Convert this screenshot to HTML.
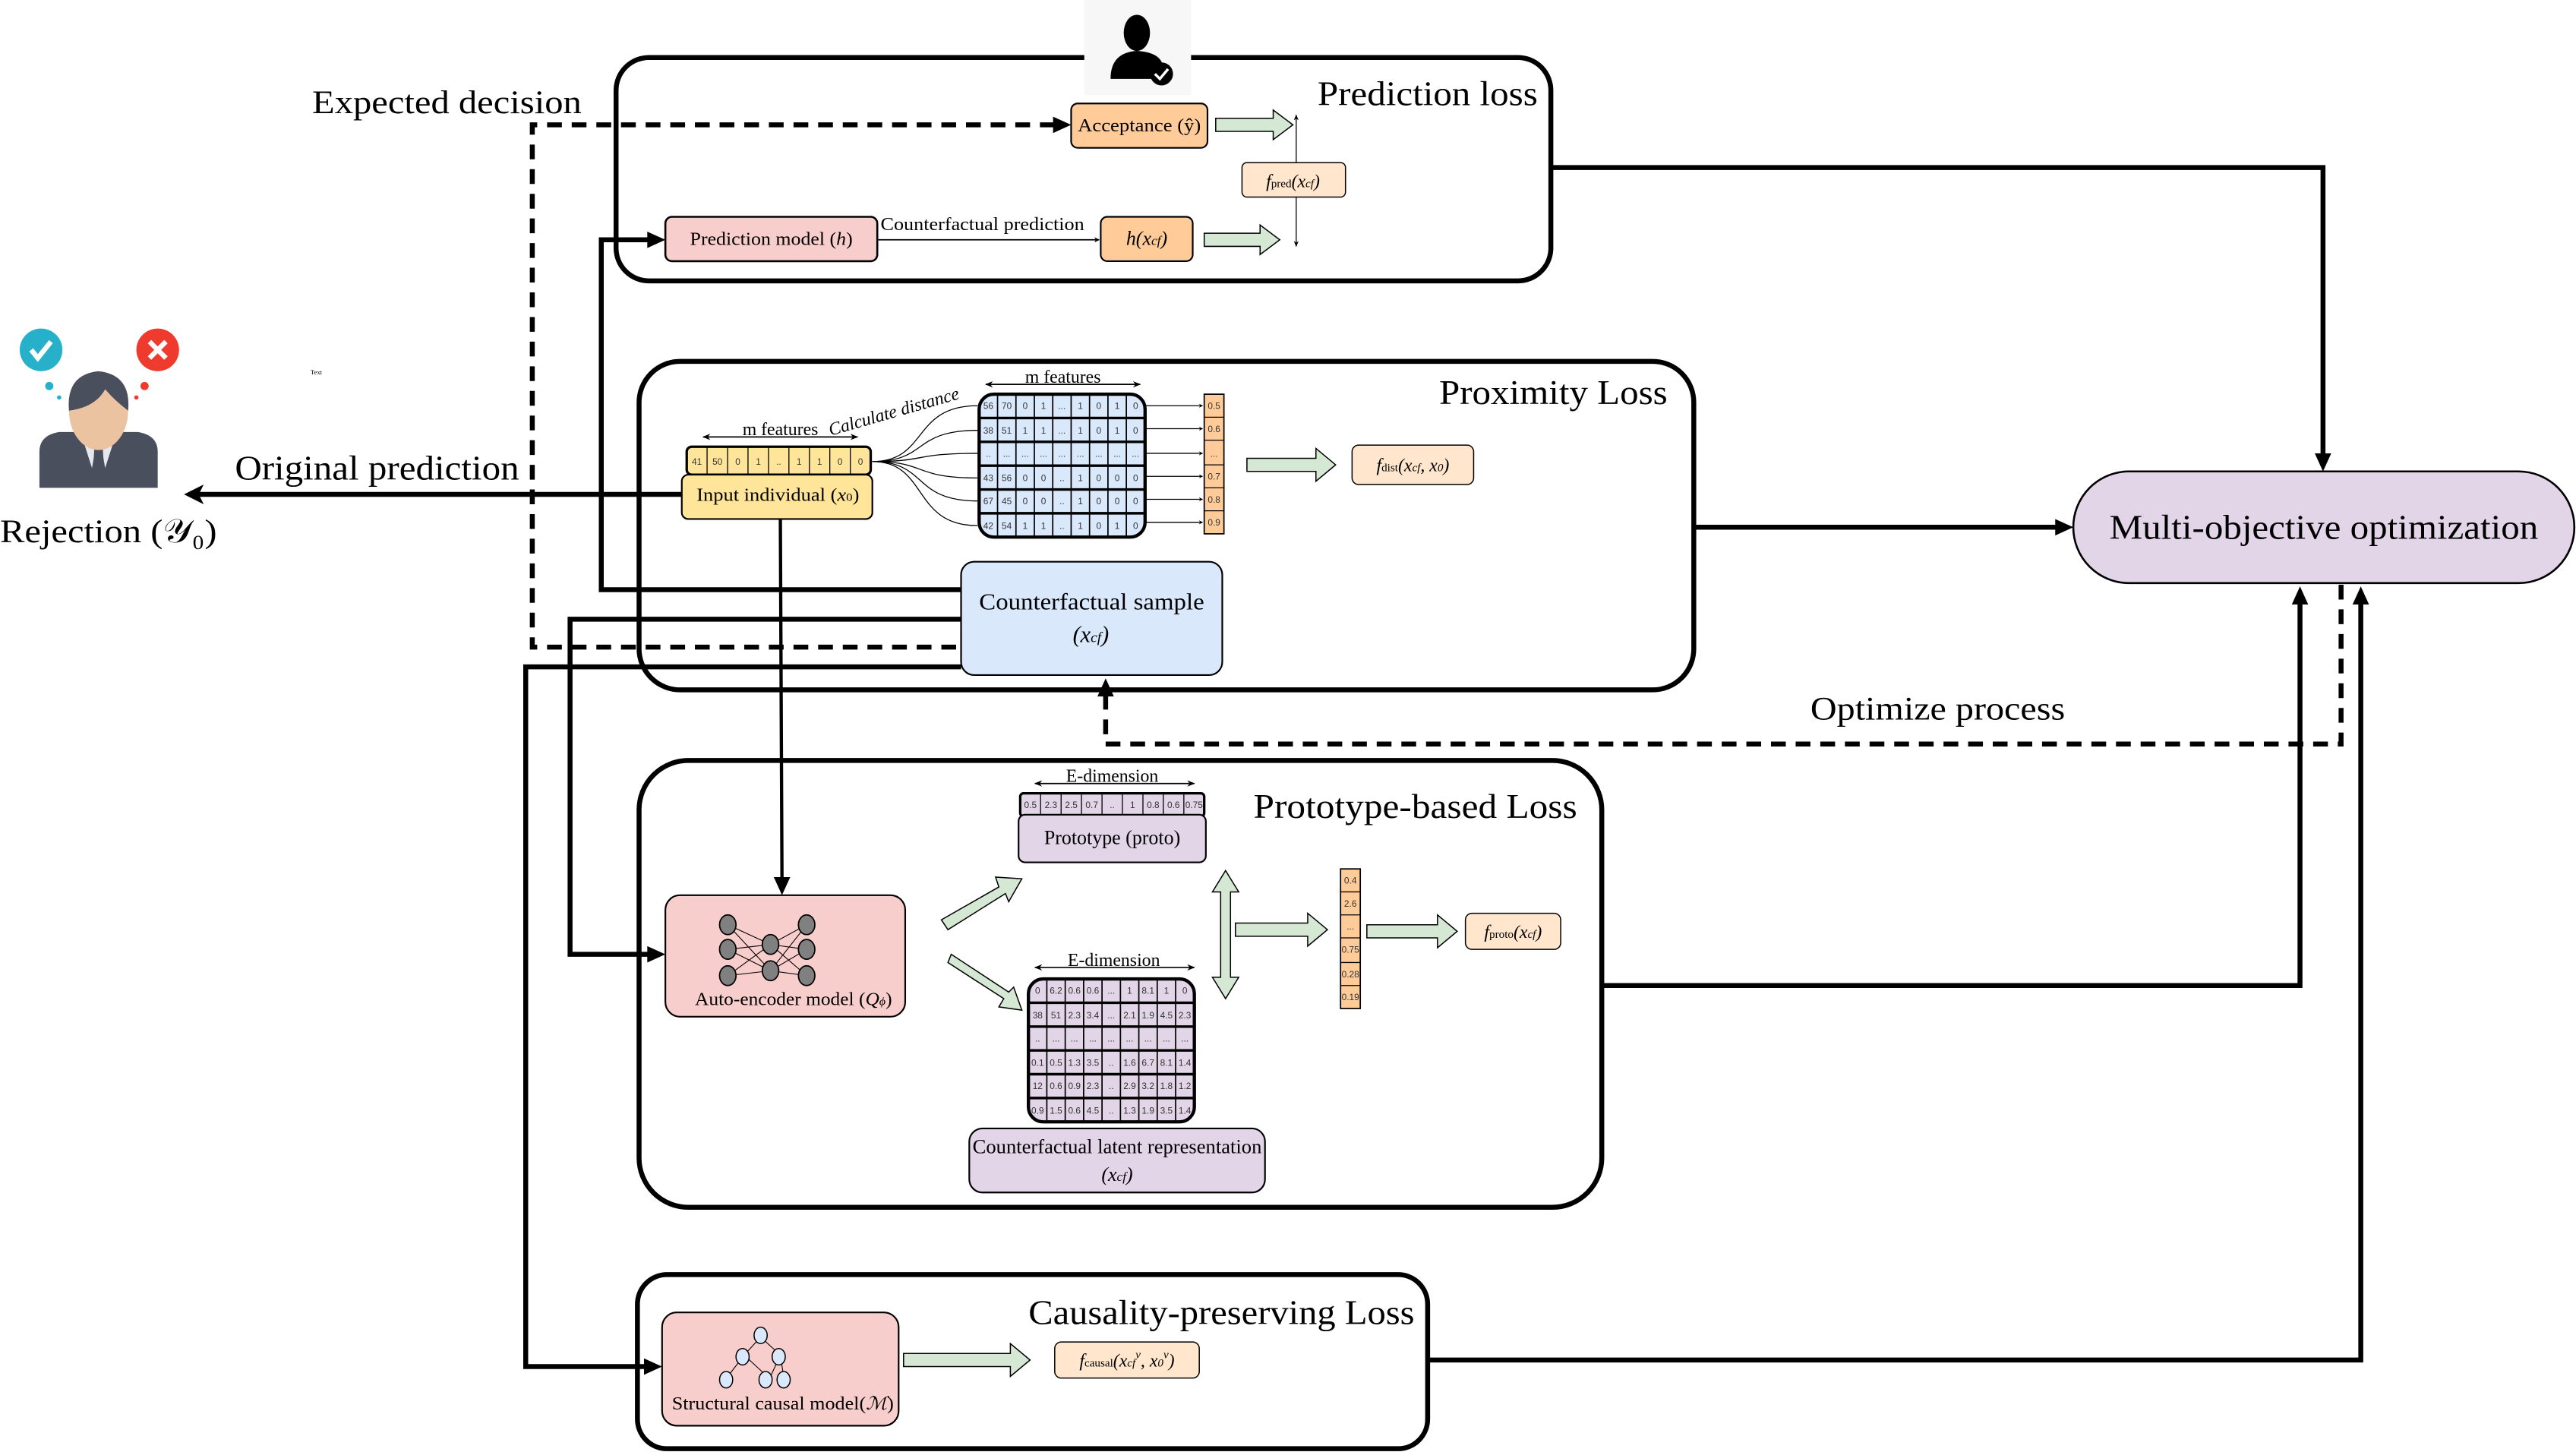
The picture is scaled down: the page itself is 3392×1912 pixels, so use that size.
<!DOCTYPE html>
<html><head><meta charset="utf-8"><style>
html,body{margin:0;padding:0;background:#fff}
svg{display:block}
text{font-family:"Liberation Serif",serif;fill:#000}
.s{font-family:"Liberation Sans",sans-serif;font-size:5.5px;text-anchor:middle;fill:#333}
.c{text-anchor:middle}
</style></head><body>
<svg width="3392" height="1912" viewBox="0 0 1568 884" preserveAspectRatio="none" xmlns="http://www.w3.org/2000/svg">
<defs>
<marker id="ah" viewBox="0 0 10 10" refX="9" refY="5" markerWidth="4" markerHeight="4" orient="auto"><path d="M0,0 L10,5 L0,10 L3,5z" fill="#000"/></marker>
<marker id="as" viewBox="0 0 10 10" refX="9" refY="5" markerWidth="6" markerHeight="6" orient="auto-start-reverse"><path d="M0,1 L10,5 L0,9 L3,5z" fill="#000"/></marker>
</defs>

<rect x="375" y="35" width="569" height="136" rx="20" fill="none" stroke="#000" stroke-width="3"/>
<rect x="660" y="0" width="65" height="58" fill="#f7f7f7"/>
<g fill="#000">
<ellipse cx="692" cy="20" rx="8" ry="11"/>
<path d="M676,48 Q676,32 692,31 Q708,32 708,42 L706,48z"/>
<circle cx="707" cy="45" r="7"/>
</g>
<path d="M703,45 l3,3 l5,-6" stroke="#fff" stroke-width="1.6" fill="none"/>

<rect x="389" y="220" width="642" height="200" rx="25" fill="none" stroke="#000" stroke-width="3"/>
<rect x="389" y="463" width="586" height="272" rx="30" fill="none" stroke="#000" stroke-width="3"/>
<rect x="388" y="776" width="481" height="106" rx="18" fill="none" stroke="#000" stroke-width="3"/>
<rect x="1262" y="287" width="305" height="68" rx="34" fill="#e1d5e7" stroke="#000" stroke-width="1.2"/>
<text x="1284" y="328" font-size="21" textLength="261" lengthAdjust="spacingAndGlyphs">Multi-objective optimization</text>

<text x="802" y="64" font-size="21" textLength="134" lengthAdjust="spacingAndGlyphs">Prediction loss</text>
<text x="876" y="246" font-size="21" textLength="139" lengthAdjust="spacingAndGlyphs">Proximity Loss</text>
<text x="763" y="498" font-size="21" textLength="197" lengthAdjust="spacingAndGlyphs">Prototype-based Loss</text>
<text x="626" y="806" font-size="21" textLength="235" lengthAdjust="spacingAndGlyphs">Causality-preserving Loss</text>
<text x="190" y="69" font-size="20" textLength="164" lengthAdjust="spacingAndGlyphs">Expected decision</text>
<text x="143" y="292" font-size="21" textLength="173" lengthAdjust="spacingAndGlyphs">Original prediction</text>
<text x="1102" y="438" font-size="20" textLength="155" lengthAdjust="spacingAndGlyphs">Optimize process</text>
<text x="0" y="330" font-size="20" textLength="132" lengthAdjust="spacingAndGlyphs">Rejection (𝒴₀)</text>
<text x="189" y="228" font-size="4" font-family="Liberation Sans">Text</text>

<circle cx="25" cy="213" r="13" fill="#26b0c9"/>
<path d="M19,213 l4,5 l8,-10" stroke="#fff" stroke-width="3" fill="none"/>
<circle cx="96" cy="213" r="13" fill="#ef3b2d"/>
<path d="M91,208 l10,10 M101,208 l-10,10" stroke="#fff" stroke-width="3"/>
<circle cx="30" cy="235" r="2.5" fill="#26b0c9"/><circle cx="36" cy="242" r="1.3" fill="#26b0c9"/>
<circle cx="88" cy="235" r="2.5" fill="#ef3b2d"/><circle cx="83" cy="242" r="1.3" fill="#ef3b2d"/>
<path d="M24,297 L24,275 Q24,265 36,263 L84,263 Q96,265 96,275 L96,297z" fill="#4a4f5e"/>
<path d="M48,260 L72,260 L64,285 L60,262 L56,285z" fill="#e6e8ee"/>
<path d="M58,263 L62,263 L63,280 L60,286 L57,280z" fill="#4a4f5e"/>
<ellipse cx="60" cy="250" rx="18" ry="24" fill="#ecc3a1"/>
<path d="M42,250 Q40,228 60,226 Q80,228 78,250 Q70,244 64,237 Q58,248 42,250z" fill="#4a4f5e"/>

<rect x="652" y="63" width="83" height="27" rx="4" fill="#ffcc99" stroke="#000" stroke-width="1"/>
<text x="656" y="80" font-size="11" textLength="75" lengthAdjust="spacingAndGlyphs">Acceptance (ŷ)</text>
<polygon points="740,72 775,72 775,67 787,76 775,85 775,80 740,80" fill="#d5e8d4" stroke="#000" stroke-width="0.7"/>
<polygon points="733,142 767,142 767,137 779,146 767,155 767,150 733,150" fill="#d5e8d4" stroke="#000" stroke-width="0.7"/>
<line x1="789" y1="70" x2="789" y2="150" stroke="#000" stroke-width="0.6" marker-start="url(#as)" marker-end="url(#as)"/>
<rect x="756" y="99" width="63" height="21" rx="3" fill="#ffe6cc" stroke="#000" stroke-width="0.7"/>
<text x="787" y="114" font-size="11" class="c" font-style="italic">f<tspan font-size="7" font-style="normal">pred</tspan>(x<tspan font-size="7">cf</tspan>)</text>
<rect x="405" y="132" width="129" height="27" rx="4" fill="#f8cecc" stroke="#000" stroke-width="1.2"/>
<text x="420" y="149" font-size="11" textLength="99" lengthAdjust="spacingAndGlyphs">Prediction model (<tspan font-style="italic">h</tspan>)</text>
<text x="536" y="140" font-size="11" textLength="124" lengthAdjust="spacingAndGlyphs">Counterfactual prediction</text>
<line x1="534" y1="146" x2="669" y2="146" stroke="#000" stroke-width="0.8" marker-end="url(#ah)"/>
<rect x="670" y="132" width="56" height="27" rx="4" fill="#ffcc99" stroke="#000" stroke-width="1"/>
<text x="698" y="149" font-size="12" class="c" font-style="italic">h(x<tspan font-size="8">cf</tspan>)</text>

<g stroke="#000" stroke-width="3" fill="none">
<polyline points="944,102 1414,102 1414,280"/>
<line x1="1031" y1="321" x2="1255" y2="321"/>
<polyline points="975,600 1400,600 1400,364"/>
<polyline points="869,828 1437,828 1437,364"/>
<polyline points="585,359 366,359 366,146 398,146"/>
<polyline points="585,377 347,377 347,581 398,581"/>
<polyline points="585,406 320,406 320,832 396,832"/>
<line x1="415" y1="301" x2="120" y2="301"/>
<line x1="475" y1="316" x2="476" y2="538" stroke-width="2"/>
</g>
<g fill="#000">
<polygon points="1414,287 1409,276 1419,276"/>
<polygon points="1262,321 1251,316 1251,326"/>
<polygon points="1400,357 1395,368 1405,368"/>
<polygon points="1437,357 1432,368 1442,368"/>
<polygon points="405,146 394,141 394,151"/>
<polygon points="405,581 394,576 394,586"/>
<polygon points="403,832 392,827 392,837"/>
<polygon points="112,301 124,295 121,301 124,307"/>
<polygon points="476,545 471,534 481,534"/>
<polygon points="652,76 641,71 641,81"/>
<polygon points="673,413 668,424 678,424"/>
</g>
<g stroke="#000" stroke-width="3" fill="none" stroke-dasharray="9,6">
<polyline points="642,76 324,76 324,394 585,394"/>
<polyline points="1425,356 1425,453 673,453 673,422"/>
</g>

<line x1="428" y1="266" x2="522" y2="266" stroke="#000" stroke-width="0.8" marker-start="url(#as)" marker-end="url(#as)"/>
<text x="475" y="265" font-size="11" class="c">m features</text>
<text x="545" y="254" font-size="11" class="c" transform="rotate(-16 545 254)" font-style="italic">Calculate distance</text>
<rect x="418" y="272" width="112" height="17" rx="3" fill="#ffe599" stroke="#000" stroke-width="1.5"/>
<g stroke="#000" stroke-width="0.6">
<line x1="430.4" y1="272" x2="430.4" y2="289"/><line x1="442.9" y1="272" x2="442.9" y2="289"/><line x1="455.3" y1="272" x2="455.3" y2="289"/><line x1="467.8" y1="272" x2="467.8" y2="289"/><line x1="480.2" y1="272" x2="480.2" y2="289"/><line x1="492.7" y1="272" x2="492.7" y2="289"/><line x1="505.1" y1="272" x2="505.1" y2="289"/><line x1="517.6" y1="272" x2="517.6" y2="289"/>
</g>
<text class="s" y="283"><tspan x="424.2">41</tspan><tspan x="436.7">50</tspan><tspan x="449.1">0</tspan><tspan x="461.6">1</tspan><tspan x="474">..</tspan><tspan x="486.4">1</tspan><tspan x="498.9">1</tspan><tspan x="511.3">0</tspan><tspan x="523.8">0</tspan></text>
<rect x="415" y="289" width="116" height="27" rx="4" fill="#ffe599" stroke="#000" stroke-width="1"/>
<text x="424" y="305" font-size="11" textLength="99" lengthAdjust="spacingAndGlyphs">Input individual (<tspan font-style="italic">x</tspan><tspan font-size="7">0</tspan>)</text>

<g stroke="#000" stroke-width="0.6" fill="none">
<path d="M531,281 C565,281 555,247 595,247"/>
<path d="M531,281 C565,281 555,262 595,262"/>
<path d="M531,281 C565,281 555,276 595,276"/>
<path d="M531,281 C565,281 555,291 595,291"/>
<path d="M531,281 C565,281 555,305 595,305"/>
<path d="M531,281 C565,281 555,320 595,320"/>
</g>
<rect x="596" y="240" width="101" height="87" rx="9" fill="#dae8fc" stroke="#000" stroke-width="2"/>
<g stroke="#000" stroke-width="1.6">
<line x1="596" y1="254.5" x2="697" y2="254.5"/><line x1="596" y1="269" x2="697" y2="269"/><line x1="596" y1="283.5" x2="697" y2="283.5"/><line x1="596" y1="298" x2="697" y2="298"/><line x1="596" y1="312.5" x2="697" y2="312.5"/>
</g>
<g stroke="#000" stroke-width="0.8">
<line x1="607.2" y1="240" x2="607.2" y2="327"/><line x1="618.4" y1="240" x2="618.4" y2="327"/><line x1="629.6" y1="240" x2="629.6" y2="327"/><line x1="640.8" y1="240" x2="640.8" y2="327"/><line x1="652" y1="240" x2="652" y2="327"/><line x1="663.2" y1="240" x2="663.2" y2="327"/><line x1="674.4" y1="240" x2="674.4" y2="327"/><line x1="685.6" y1="240" x2="685.6" y2="327"/>
</g>
<text class="s" y="249"><tspan x="601.6">56</tspan><tspan x="612.8">70</tspan><tspan x="624">0</tspan><tspan x="635.2">1</tspan><tspan x="646.4">...</tspan><tspan x="657.6">1</tspan><tspan x="668.8">0</tspan><tspan x="680">1</tspan><tspan x="691.2">0</tspan></text>
<text class="s" y="264"><tspan x="601.6">38</tspan><tspan x="612.8">51</tspan><tspan x="624">1</tspan><tspan x="635.2">1</tspan><tspan x="646.4">...</tspan><tspan x="657.6">1</tspan><tspan x="668.8">0</tspan><tspan x="680">1</tspan><tspan x="691.2">0</tspan></text>
<text class="s" y="278"><tspan x="601.6">..</tspan><tspan x="612.8">...</tspan><tspan x="624">...</tspan><tspan x="635.2">...</tspan><tspan x="646.4">...</tspan><tspan x="657.6">...</tspan><tspan x="668.8">...</tspan><tspan x="680">...</tspan><tspan x="691.2">...</tspan></text>
<text class="s" y="293"><tspan x="601.6">43</tspan><tspan x="612.8">56</tspan><tspan x="624">0</tspan><tspan x="635.2">0</tspan><tspan x="646.4">..</tspan><tspan x="657.6">1</tspan><tspan x="668.8">0</tspan><tspan x="680">0</tspan><tspan x="691.2">0</tspan></text>
<text class="s" y="307"><tspan x="601.6">67</tspan><tspan x="612.8">45</tspan><tspan x="624">0</tspan><tspan x="635.2">0</tspan><tspan x="646.4">..</tspan><tspan x="657.6">1</tspan><tspan x="668.8">0</tspan><tspan x="680">0</tspan><tspan x="691.2">0</tspan></text>
<text class="s" y="322"><tspan x="601.6">42</tspan><tspan x="612.8">54</tspan><tspan x="624">1</tspan><tspan x="635.2">1</tspan><tspan x="646.4">..</tspan><tspan x="657.6">1</tspan><tspan x="668.8">0</tspan><tspan x="680">1</tspan><tspan x="691.2">0</tspan></text>
<line x1="600" y1="234" x2="694" y2="234" stroke="#000" stroke-width="0.8" marker-start="url(#as)" marker-end="url(#as)"/>
<text x="647" y="233" font-size="11" class="c">m features</text>
<g stroke="#000" stroke-width="0.6" marker-end="url(#ah)">
<line x1="697" y1="247" x2="732" y2="247"/><line x1="697" y1="261" x2="732" y2="261"/><line x1="697" y1="276" x2="732" y2="276"/><line x1="697" y1="290" x2="732" y2="290"/><line x1="697" y1="304" x2="732" y2="304"/><line x1="697" y1="318" x2="732" y2="318"/>
</g>
<rect x="733" y="240" width="12" height="85" fill="#ffcc99" stroke="#000" stroke-width="0.8"/>
<g stroke="#000" stroke-width="0.6"><line x1="733" y1="254" x2="745" y2="254"/><line x1="733" y1="268" x2="745" y2="268"/><line x1="733" y1="283" x2="745" y2="283"/><line x1="733" y1="297" x2="745" y2="297"/><line x1="733" y1="311" x2="745" y2="311"/></g>
<text class="s" x="739" y="249">0.5</text><text class="s" x="739" y="263">0.6</text><text class="s" x="739" y="278">...</text><text class="s" x="739" y="292">0.7</text><text class="s" x="739" y="306">0.8</text><text class="s" x="739" y="320">0.9</text>
<polygon points="759,279 801,279 801,273 813,283 801,293 801,287 759,287" fill="#d5e8d4" stroke="#000" stroke-width="0.7"/>
<rect x="823" y="271" width="74" height="24" rx="4" fill="#ffe6cc" stroke="#000" stroke-width="0.7"/>
<text x="860" y="287" font-size="11" class="c" font-style="italic">f<tspan font-size="7" font-style="normal">dist</tspan>(x<tspan font-size="7">cf</tspan>, x<tspan font-size="7">0</tspan>)</text>
<rect x="585" y="342" width="159" height="69" rx="8" fill="#dae8fc" stroke="#000" stroke-width="1"/>
<text x="596" y="371" font-size="14" textLength="137" lengthAdjust="spacingAndGlyphs">Counterfactual sample</text>
<text x="664" y="391" font-size="14" class="c" font-style="italic">(x<tspan font-size="9">cf</tspan>)</text>

<line x1="630" y1="477" x2="727" y2="477" stroke="#000" stroke-width="0.8" marker-start="url(#as)" marker-end="url(#as)"/>
<text x="677" y="476" font-size="11" class="c">E-dimension</text>
<rect x="621" y="483" width="112" height="14" rx="2" fill="#e1d5e7" stroke="#000" stroke-width="1.5"/>
<g stroke="#000" stroke-width="0.6">
<line x1="633.4" y1="483" x2="633.4" y2="497"/><line x1="645.9" y1="483" x2="645.9" y2="497"/><line x1="658.3" y1="483" x2="658.3" y2="497"/><line x1="670.8" y1="483" x2="670.8" y2="497"/><line x1="683.2" y1="483" x2="683.2" y2="497"/><line x1="695.7" y1="483" x2="695.7" y2="497"/><line x1="708.1" y1="483" x2="708.1" y2="497"/><line x1="720.6" y1="483" x2="720.6" y2="497"/>
</g>
<text class="s" y="492"><tspan x="627.2">0.5</tspan><tspan x="639.7">2.3</tspan><tspan x="652.1">2.5</tspan><tspan x="664.6">0.7</tspan><tspan x="677">..</tspan><tspan x="689.4">1</tspan><tspan x="701.9">0.8</tspan><tspan x="714.3">0.6</tspan><tspan x="726.8">0.75</tspan></text>
<rect x="620" y="496" width="114" height="29" rx="4" fill="#e1d5e7" stroke="#000" stroke-width="1"/>
<text x="677" y="514" font-size="12" class="c">Prototype (proto)</text>

<rect x="405" y="545" width="146" height="74" rx="9" fill="#f8cecc" stroke="#000" stroke-width="1"/>
<g stroke="#000" stroke-width="0.5">
<line x1="443" y1="563" x2="469" y2="575"/><line x1="443" y1="563" x2="469" y2="591"/><line x1="443" y1="578" x2="469" y2="575"/><line x1="443" y1="578" x2="469" y2="591"/><line x1="443" y1="594" x2="469" y2="575"/><line x1="443" y1="594" x2="469" y2="591"/>
<line x1="469" y1="575" x2="491" y2="563"/><line x1="469" y1="575" x2="491" y2="578"/><line x1="469" y1="575" x2="491" y2="594"/><line x1="469" y1="591" x2="491" y2="563"/><line x1="469" y1="591" x2="491" y2="578"/><line x1="469" y1="591" x2="491" y2="594"/>
</g>
<g fill="#808080" stroke="#000" stroke-width="0.8">
<ellipse cx="443" cy="563" rx="5" ry="6"/><ellipse cx="443" cy="578" rx="5" ry="6"/><ellipse cx="443" cy="594" rx="5" ry="6"/>
<ellipse cx="469" cy="575" rx="5" ry="6"/><ellipse cx="469" cy="591" rx="5" ry="6"/>
<ellipse cx="491" cy="563" rx="5" ry="6"/><ellipse cx="491" cy="578" rx="5" ry="6"/><ellipse cx="491" cy="594" rx="5" ry="6"/>
</g>
<text x="423" y="612" font-size="11" textLength="120" lengthAdjust="spacingAndGlyphs">Auto-encoder model (<tspan font-style="italic">Q<tspan font-size="7">ϕ</tspan></tspan>)</text>

<polygon points="573,560 608,540 606,534 622,535 614,549 612,544 577,566" fill="#d5e8d4" stroke="#000" stroke-width="0.7"/>
<polygon points="577,586 611,608 608,613 622,615 617,601 614,604 579,581" fill="#d5e8d4" stroke="#000" stroke-width="0.7"/>

<line x1="630" y1="589" x2="727" y2="589" stroke="#000" stroke-width="0.8" marker-start="url(#as)" marker-end="url(#as)"/>
<text x="678" y="588" font-size="11" class="c">E-dimension</text>
<rect x="626" y="596" width="101" height="87" rx="9" fill="#e1d5e7" stroke="#000" stroke-width="2"/>
<g stroke="#000" stroke-width="1.6">
<line x1="626" y1="610.5" x2="727" y2="610.5"/><line x1="626" y1="625" x2="727" y2="625"/><line x1="626" y1="639.5" x2="727" y2="639.5"/><line x1="626" y1="654" x2="727" y2="654"/><line x1="626" y1="668.5" x2="727" y2="668.5"/>
</g>
<g stroke="#000" stroke-width="0.8">
<line x1="637.2" y1="596" x2="637.2" y2="683"/><line x1="648.4" y1="596" x2="648.4" y2="683"/><line x1="659.6" y1="596" x2="659.6" y2="683"/><line x1="670.8" y1="596" x2="670.8" y2="683"/><line x1="682" y1="596" x2="682" y2="683"/><line x1="693.2" y1="596" x2="693.2" y2="683"/><line x1="704.4" y1="596" x2="704.4" y2="683"/><line x1="715.6" y1="596" x2="715.6" y2="683"/>
</g>
<text class="s" y="605"><tspan x="631.6">0</tspan><tspan x="642.8">6.2</tspan><tspan x="654">0.6</tspan><tspan x="665.2">0.6</tspan><tspan x="676.4">...</tspan><tspan x="687.6">1</tspan><tspan x="698.8">8.1</tspan><tspan x="710">1</tspan><tspan x="721.2">0</tspan></text>
<text class="s" y="620"><tspan x="631.6">38</tspan><tspan x="642.8">51</tspan><tspan x="654">2.3</tspan><tspan x="665.2">3.4</tspan><tspan x="676.4">...</tspan><tspan x="687.6">2.1</tspan><tspan x="698.8">1.9</tspan><tspan x="710">4.5</tspan><tspan x="721.2">2.3</tspan></text>
<text class="s" y="634"><tspan x="631.6">..</tspan><tspan x="642.8">...</tspan><tspan x="654">...</tspan><tspan x="665.2">...</tspan><tspan x="676.4">...</tspan><tspan x="687.6">...</tspan><tspan x="698.8">...</tspan><tspan x="710">...</tspan><tspan x="721.2">...</tspan></text>
<text class="s" y="649"><tspan x="631.6">0.1</tspan><tspan x="642.8">0.5</tspan><tspan x="654">1.3</tspan><tspan x="665.2">3.5</tspan><tspan x="676.4">..</tspan><tspan x="687.6">1.6</tspan><tspan x="698.8">6.7</tspan><tspan x="710">8.1</tspan><tspan x="721.2">1.4</tspan></text>
<text class="s" y="663"><tspan x="631.6">12</tspan><tspan x="642.8">0.6</tspan><tspan x="654">0.9</tspan><tspan x="665.2">2.3</tspan><tspan x="676.4">..</tspan><tspan x="687.6">2.9</tspan><tspan x="698.8">3.2</tspan><tspan x="710">1.8</tspan><tspan x="721.2">1.2</tspan></text>
<text class="s" y="678"><tspan x="631.6">0.9</tspan><tspan x="642.8">1.5</tspan><tspan x="654">0.6</tspan><tspan x="665.2">4.5</tspan><tspan x="676.4">..</tspan><tspan x="687.6">1.3</tspan><tspan x="698.8">1.9</tspan><tspan x="710">3.5</tspan><tspan x="721.2">1.4</tspan></text>
<rect x="590" y="687" width="180" height="39" rx="8" fill="#e1d5e7" stroke="#000" stroke-width="1"/>
<text x="592" y="702" font-size="12" textLength="176" lengthAdjust="spacingAndGlyphs">Counterfactual latent representation</text>
<text x="680" y="719" font-size="12" class="c" font-style="italic">(x<tspan font-size="8">cf</tspan>)</text>

<polygon points="746,530 754,543 749,543 749,595 754,595 746,608 738,595 743,595 743,543 738,543" fill="#d5e8d4" stroke="#000" stroke-width="0.7"/>
<polygon points="752,562 796,562 796,556 808,566 796,576 796,570 752,570" fill="#d5e8d4" stroke="#000" stroke-width="0.7"/>
<rect x="816" y="529" width="12" height="85" fill="#ffcc99" stroke="#000" stroke-width="0.8"/>
<g stroke="#000" stroke-width="0.6"><line x1="816" y1="543" x2="828" y2="543"/><line x1="816" y1="557" x2="828" y2="557"/><line x1="816" y1="571" x2="828" y2="571"/><line x1="816" y1="586" x2="828" y2="586"/><line x1="816" y1="600" x2="828" y2="600"/></g>
<text class="s" x="822" y="538">0.4</text><text class="s" x="822" y="552">2.6</text><text class="s" x="822" y="566">...</text><text class="s" x="822" y="580">0.75</text><text class="s" x="822" y="595">0.28</text><text class="s" x="822" y="609">0.19</text>
<polygon points="832,563 875,563 875,557 887,567 875,577 875,571 832,571" fill="#d5e8d4" stroke="#000" stroke-width="0.7"/>
<rect x="892" y="556" width="58" height="22" rx="4" fill="#ffe6cc" stroke="#000" stroke-width="0.7"/>
<text x="921" y="571" font-size="11" class="c" font-style="italic">f<tspan font-size="7" font-style="normal">proto</tspan>(x<tspan font-size="7">cf</tspan>)</text>

<rect x="403" y="799" width="144" height="69" rx="9" fill="#f8cecc" stroke="#000" stroke-width="1"/>
<g stroke="#000" stroke-width="0.5">
<line x1="463" y1="814" x2="453" y2="825"/><line x1="463" y1="814" x2="475" y2="825"/><line x1="453" y1="825" x2="443" y2="838"/><line x1="453" y1="825" x2="467" y2="838"/><line x1="475" y1="825" x2="469" y2="838"/><line x1="475" y1="825" x2="477" y2="838"/>
</g>
<g fill="#dae8fc" stroke="#000" stroke-width="0.7">
<ellipse cx="463" cy="813" rx="4" ry="5"/><ellipse cx="452" cy="826" rx="4" ry="5"/><ellipse cx="474" cy="826" rx="4" ry="5"/>
<ellipse cx="442" cy="840" rx="4" ry="5"/><ellipse cx="466" cy="840" rx="4" ry="5"/><ellipse cx="477" cy="840" rx="4" ry="5"/>
</g>
<text x="409" y="858" font-size="11" textLength="135" lengthAdjust="spacingAndGlyphs">Structural causal model(<tspan font-style="italic">ℳ</tspan>)</text>
<polygon points="550,824 615,824 615,818 627,828 615,838 615,832 550,832" fill="#d5e8d4" stroke="#000" stroke-width="0.7"/>
<rect x="642" y="817" width="88" height="22" rx="4" fill="#ffe6cc" stroke="#000" stroke-width="0.7"/>
<text x="686" y="832" font-size="11" class="c" font-style="italic">f<tspan font-size="7" font-style="normal">causal</tspan>(x<tspan font-size="7">cf</tspan><tspan font-size="7" dy="-5">v</tspan><tspan dy="5">, x</tspan><tspan font-size="7">0</tspan><tspan font-size="7" dy="-5">v</tspan><tspan dy="5">)</tspan></text>
</svg>
</body></html>
